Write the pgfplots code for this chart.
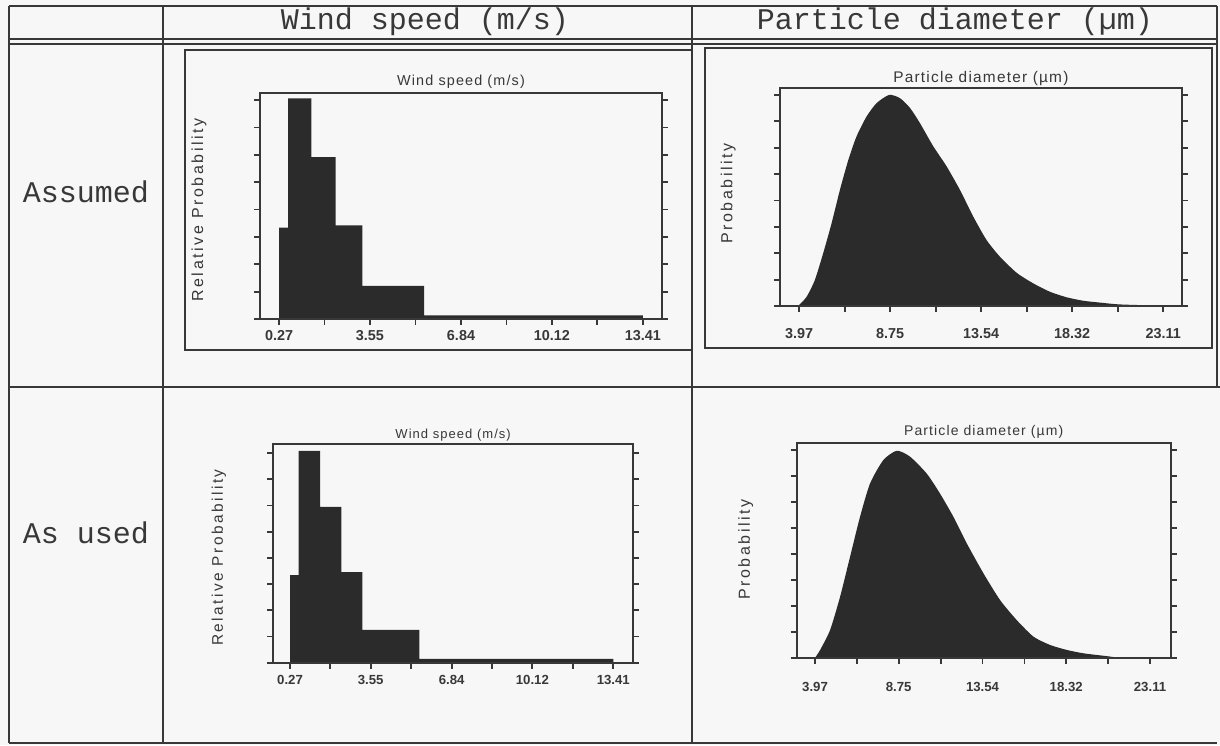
\documentclass[border=0pt]{standalone}
\usepackage{fontspec}
\setmainfont{Liberation Sans}
\newfontfamily\mono{Liberation Mono}
\newfontfamily\lab[LetterSpace=16]{Liberation Sans}
\newfontfamily\ttl[LetterSpace=8]{Liberation Sans}
\usepackage{pgfplots}
\pgfplotsset{compat=1.18}
\definecolor{ink}{gray}{0.22}
\definecolor{fillc}{gray}{0.17}
\pgfplotsset{
  panel/.style={
    scale only axis, anchor=south west,
    axis line style={line width=1pt, ink},
    every tick/.style={line width=0.9pt, ink},
    major tick length=3pt, minor tick length=3pt,
    tick align=outside,
    xtick pos=left, ytick pos=both,
    ymin=0, ytick={0,...,8}, yticklabels={,,},
    minor y tick num=0,
    title style={anchor=south, inner sep=0pt, text=ink},
    ylabel style={anchor=center, text=ink},
    xticklabel style={inner sep=0pt, anchor=north, text=ink,
      font=\bfseries\fontsize{7.2}{8}\selectfont},
    after end axis/.code={\draw[line width=1pt, ink] (rel axis cs:-0.012,0) -- (rel axis cs:1.015,0);},
  },
  wind/.style={
    xtick={0.27,3.55,6.84,10.12,13.41},
    xticklabels={0.27,3.55,6.84,10.12,13.41},
    minor xtick={1.91,5.195,8.48,11.765},
  },
  part/.style={
    xtick={3.97,8.75,13.54,18.32,23.11},
    xticklabels={3.97,8.75,13.54,18.32,23.11},
    minor xtick={6.36,11.145,15.93,20.715},
  },
}
\begin{document}
\begin{tikzpicture}
\begin{scope}[x=0.5pt,y=-0.5pt]
\fill[black!3] (0,0) rectangle (1220,745);
\path[use as bounding box] (0,0) rectangle (1220,745);
% table lines
\begin{scope}[line width=1.2pt, draw=ink]
\draw (9,6) -- (1217,6);
\draw (9,39) -- (1217,39);
\draw[line width=1pt] (9,44) -- (1217,44);
\draw (9,6) -- (9,743);
\draw (163,6) -- (163,743);
\draw (692,6) -- (692,743);
\draw (1217,6) -- (1217,387);
\draw (9,387) -- (1220,387);
\draw (9,743) -- (1217,743);
\draw[line width=1pt] (185,50) rectangle (692,350);
\draw[line width=1pt] (705,48) rectangle (1212,348);
\end{scope}
\begin{scope}[font=\mono\fontsize{15}{16}\selectfont, text=ink]
\node at (425,22) {Wind speed (m/s)};
\node at (955,22) {Particle diameter (µm)};
\node at (86,192) {Assumed};
\node at (86,533) {As used};
\end{scope}
\end{scope}

% Top-left: assumed wind speed
\begin{axis}[panel, wind, at={(130pt,-159.5pt)}, width=201pt, height=113pt,
  xmin=-0.42, xmax=14.10, ymax=8.26,
  title={Wind speed (m/s)},
  title style={at={(0.5,1)}, yshift=-4pt, font=\ttl\fontsize{7.2}{8}\selectfont},
  ylabel={Relative Probability},
  ylabel style={at={(axis description cs:-0.152,0.482)}, font=\lab\fontsize{8}{9}\selectfont},
  xticklabel style={yshift=-2.5pt},
]
\addplot[fill=fillc, draw=none, const plot] coordinates {
 (0.27,3.34) (0.60,8.06) (1.44,5.92) (2.31,3.42) (3.28,1.21) (5.51,0.13) (13.41,0.13)
} \closedcycle;
\end{axis}

% Top-right: assumed particle diameter
\begin{axis}[panel, part, at={(390pt,-153pt)}, width=200.85pt, height=108.85pt,
  xmin=2.96, xmax=24.08, ymax=8.25,
  title={Particle diameter (µm)},
  title style={at={(0.5,1)}, yshift=-5pt, font=\ttl\fontsize{7.7}{8}\selectfont},
  ylabel={Probability},
  ylabel style={at={(axis description cs:-0.129,0.517)}, font=\lab\fontsize{8}{9}\selectfont},
  xticklabel style={yshift=-8pt},
]
\addplot[fill=fillc, draw=none, smooth, tension=0.4] coordinates {
 (3.97,0.04) (4.36,0.35) (4.79,0.98) (5.23,2.00) (5.67,3.13) (6.11,4.40)
 (6.55,5.53) (6.98,6.42) (7.51,7.18) (8.04,7.69) (8.70,8.00) (9.26,7.88)
 (9.79,7.51) (10.31,6.94) (11.02,6.05) (11.72,5.29) (12.42,4.40) (13.12,3.39)
 (13.82,2.50) (14.52,1.87) (15.40,1.26) (16.27,0.86) (17.15,0.54) (18.03,0.33)
 (18.90,0.20) (19.78,0.13) (20.83,0.06) (23.11,0.01)
} \closedcycle;
\end{axis}

% Bottom-left: used wind speed
\begin{axis}[panel, wind, at={(136.65pt,-331.35pt)}, width=179.85pt, height=109.35pt,
  xmin=-0.41, xmax=14.21, ymax=8.35,
  title={Wind speed (m/s)},
  title style={at={(0.5,1)}, yshift=-5pt, font=\ttl\fontsize{6.5}{7}\selectfont},
  ylabel={Relative Probability},
  ylabel style={at={(axis description cs:-0.151,0.481)}, font=\lab\fontsize{7.7}{9}\selectfont},
  xticklabel style={yshift=-3pt, font=\bfseries\fontsize{6.6}{7}\selectfont},
]
\addplot[fill=fillc, draw=none, const plot] coordinates {
 (0.27,3.34) (0.62,8.09) (1.49,5.95) (2.36,3.46) (3.21,1.25) (5.53,0.15) (13.41,0.15)
} \closedcycle;
\end{axis}

% Bottom-right: used particle diameter
\begin{axis}[panel, part, at={(398.35pt,-328.85pt)}, width=187pt, height=107.5pt,
  xmin=2.92, xmax=24.29, ymax=8.28,
  title={Particle diameter (µm)},
  title style={at={(0.5,1)}, yshift=-4.2pt, font=\ttl\fontsize{7}{8}\selectfont},
  ylabel={Probability},
  ylabel style={at={(axis description cs:-0.136,0.503)}, font=\lab\fontsize{8}{9}\selectfont},
  xticklabel style={yshift=-9pt, font=\bfseries\fontsize{6.6}{7}\selectfont},
]
\addplot[fill=fillc, draw=none, smooth, tension=0.4] coordinates {
 (3.97,0.00) (4.26,0.30) (4.83,1.07) (5.40,2.35) (5.97,3.89) (6.54,5.43)
 (7.11,6.71) (7.87,7.61) (8.64,7.97) (9.40,7.74) (10.35,7.09) (11.11,6.32)
 (11.87,5.43) (12.64,4.40) (13.59,3.25) (14.54,2.22) (15.49,1.45) (16.45,0.81)
 (17.40,0.49) (18.35,0.30) (19.30,0.17) (20.64,0.06) (21.20,0.01)
} \closedcycle;
\end{axis}
\end{tikzpicture}
\end{document}
